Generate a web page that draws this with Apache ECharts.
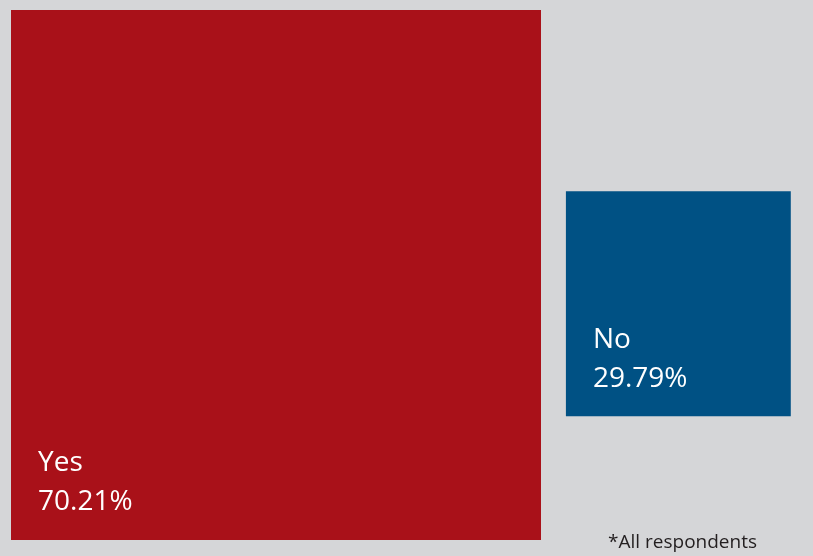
<!DOCTYPE html>
<html>
<head>
<meta charset="utf-8">
<script src="https://cdn.jsdelivr.net/npm/echarts@6/dist/echarts.min.js"></script>
<style>
  html, body { margin: 0; padding: 0; background: #d5d6d8; }
  #chart { width: 813px; height: 556px; }
</style>
</head>
<body>
<div id="chart"></div>
<script>
// Survey answers and their shares (percent of all respondents)
const categories = ['Yes', 'No'];
const shares = [70.21, 29.79];
const colors = ['#a91119', '#005184'];
const footnote = '*All respondents';

// Layout: each answer is a square whose side is proportional to its share
const GRID = { left: 11, top: 10, right: 20, bottom: 16 };
const CHART_W = 813, CHART_H = 556;
const gridW = CHART_W - GRID.left - GRID.right;
const gridH = CHART_H - GRID.top - GRID.bottom;
const maxShare = Math.max(...shares);
const gapUnits = maxShare * 0.047;          // horizontal gap between squares
const topOffsetRatio = [0, 0.342];          // vertical offset of each square, fraction of largest side

const chart = echarts.init(document.getElementById('chart'), null, { renderer: 'canvas' });

chart.setOption({
  backgroundColor: '#d5d6d8',
  animation: false,
  grid: { left: GRID.left, top: GRID.top, right: GRID.right, bottom: GRID.bottom },
  xAxis: {
    type: 'value', min: 0, max: maxShare * gridW / gridH,
    show: false
  },
  yAxis: {
    type: 'value', min: 0, max: maxShare, inverse: true,
    show: false
  },
  series: [{
    type: 'custom',
    data: shares.map((v, i) => [i, v]),
    encode: { x: 1, y: 1 },
    renderItem: function (params, api) {
      const i = api.value(0);
      const side = api.value(1);
      let x0 = 0;
      for (let k = 0; k < i; k++) x0 += shares[k] + gapUnits;
      const y0 = topOffsetRatio[i] * maxShare;
      const p = api.coord([x0, y0]);
      const s = api.size([side, side]);
      return {
        type: 'group',
        children: [{
          type: 'rect',
          shape: { x: p[0], y: p[1], width: s[0], height: s[1] },
          style: { fill: colors[i] }
        }, {
          type: 'text',
          style: {
            text: categories[i] + '\n' + side.toFixed(2) + '%',
            x: p[0] + 27,
            y: p[1] + s[1] - 18,
            verticalAlign: 'bottom',
            align: 'left',
            fill: '#ffffff',
            font: '28px "Open Sans"',
            lineHeight: 39
          }
        }]
      };
    }
  }],
  graphic: [{
    type: 'text',
    right: 56,
    top: 533,
    style: {
      text: footnote,
      fill: '#231f20',
      font: '19px "Open Sans"'
    }
  }]
});
</script>
</body>
</html>
